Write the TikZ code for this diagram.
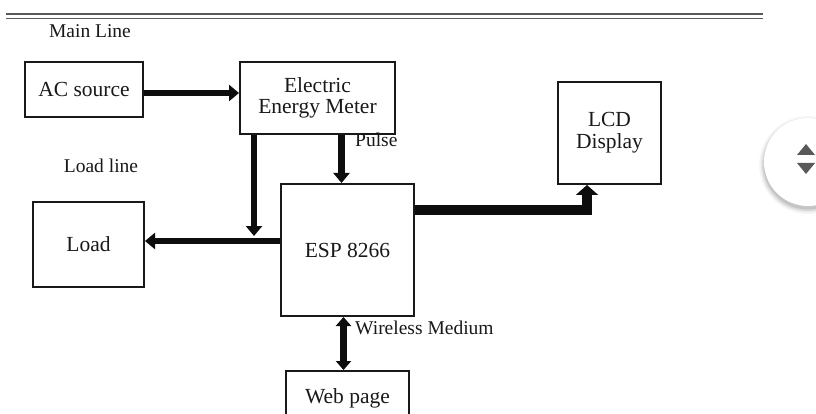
\documentclass[tikz,border=0pt]{standalone}
\usepackage{fontspec}
\setmainfont{Liberation Serif}
\usetikzlibrary{arrows.meta,calc}
\begin{document}
\begin{tikzpicture}[x=1pt,y=-1pt,
  blk/.style={draw=black!90,line width=2pt,fill=white,align=center,inner sep=0pt,
    font=\fontsize{21.5}{22}\selectfont,text=black!90},
  lbl/.style={font=\fontsize{19.5}{20}\selectfont,text=black!90,inner sep=0pt},
  conn/.style={line width=6.5pt,black!95,-{Triangle[width=16pt,length=10pt]}},
  bigconn/.style={line width=10pt,black!95,-{Triangle[width=22pt,length=10pt]}},
  dconn/.style={line width=6.5pt,black!95,{Triangle[width=15pt,length=9pt]}-{Triangle[width=15pt,length=9pt]}}]
\useasboundingbox (0,0) rectangle (816,414);
\fill[white] (0,0) rectangle (816,414);
% double header rules
\draw[line width=1.6pt,black!65] (6,14) -- (763,14);
\draw[line width=1.6pt,black!65] (6,18.5) -- (763,18.5);
% labels
\node[lbl] (mainline) at (90,31) {Main Line};
\node[lbl] (loadline) at (101,166) {Load line};
% blocks
\node[blk,minimum width=118,minimum height=55] (ac) at (84,89.5) {AC source};
\node[blk,minimum width=155,minimum height=72] (eem) at (317.5,98) {Electric\\[-1pt]Energy Meter};
\node[blk,minimum width=103,minimum height=102] (lcd) at (609.5,133) {LCD\\[0pt]Display};
\node[blk,minimum width=111,minimum height=85] (load) at (88.5,244.5) {Load};
\node[blk,minimum width=133,minimum height=132] (esp) at (347.5,250) {ESP 8266};
\node[blk,minimum width=123,minimum height=54] (web) at (347.5,398) {Web page};
% connectors
\draw[conn] ([yshift=-3.5pt]ac.east) -- ([yshift=-3.5pt]ac.east -| eem.west);
\coordinate (drop) at (254,236);
\draw[conn] (eem.south -| drop) -- (drop);
\draw[conn] ([xshift=24pt]eem.south) -- ([xshift=24pt]eem.south |- esp.north);
\node[lbl,anchor=west] (pulse) at (355,140) {Pulse};
\draw[conn] ([yshift=9pt]esp.west) -- ([yshift=9pt]esp.west -| load.east);
\draw[bigconn] ([yshift=40pt]esp.east) -| ([xshift=-22.5pt]lcd.south);
\draw[dconn] ([xshift=-4pt]esp.south) -- ([xshift=-4pt]esp.south |- web.north);
\node[lbl,anchor=west] (wireless) at (355,328) {Wireless Medium};
% scroll widget
\foreach \r/\o in {49/0.03,47.5/0.05,46/0.07,44.5/0.09}{
  \fill[black,opacity=\o] (808,165) circle (\r);}
\fill[white] (808,162) circle (44);
\fill[black!65] (797,155) -- (806,144) -- (815,155) -- cycle;
\fill[black!65] (797,163) -- (815,163) -- (806,174) -- cycle;
\end{tikzpicture}
\end{document}
